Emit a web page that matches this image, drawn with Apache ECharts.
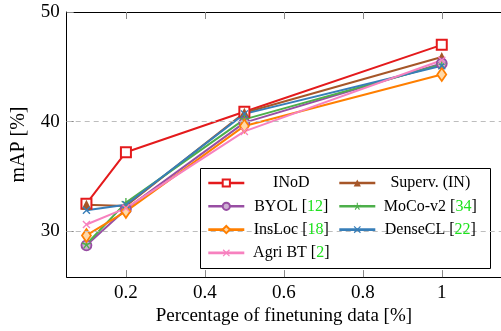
<!DOCTYPE html>
<html><head><meta charset="utf-8">
<script src="https://cdn.jsdelivr.net/npm/echarts@6/dist/echarts.min.js"></script>
<style>html,body{margin:0;padding:0;background:#fff}#c{width:501px;height:331px}</style>
</head><body><div id="c"></div>
<script>
const xValues = [0.1, 0.2, 0.5, 1.0];
const inod    = [32.5, 37.2, 40.9, 47.0];
const superv  = [32.4, 32.3, 40.8, 45.9];
const byol    = [28.7, 32.0, 39.9, 45.3];
const moco    = [28.8, 32.6, 40.2, 45.2];
const insloc  = [29.6, 31.8, 39.6, 44.3];
const densecl = [31.9, 32.4, 40.7, 45.1];
const agribt  = [30.6, 32.1, 39.1, 45.6];
const xTicks = [0.2, 0.4, 0.6, 0.8, 1];
const yTicks = [30, 40, 50];
const gridValues = [30, 40];

const FONT = '"Liberation Serif", "DejaVu Serif", serif';
const XPATH = 'path://M0,1.2 L1.2,0 L5,3.8 L8.8,0 L10,1.2 L6.2,5 L10,8.8 L8.8,10 L5,6.2 L1.2,10 L0,8.8 L3.8,5 Z';
const ASTER = 'path://M4.3,0 L5.7,0 L5.7,3.8 L9.3,2.6 L9.7,3.9 L6.2,5.1 L8.4,8.1 L7.3,8.9 L5,5.9 L2.7,8.9 L1.6,8.1 L3.8,5.1 L0.3,3.9 L0.7,2.6 L4.3,3.8 Z';

const defs = [
  {name:'INoD', ref:null, data:inod, color:'#e41a1c', symbol:'rect', size:10, fill:'#fff', bw:2},
  {name:'Superv. (IN)', ref:null, data:superv, color:'#a65628', symbol:'triangle', size:10, fill:'#a65628', bw:0},
  {name:'BYOL', ref:'12', data:byol, color:'#984ea3', symbol:'circle', size:10, fill:'#cdb0d2', bw:1.8},
  {name:'MoCo-v2', ref:'34', data:moco, color:'#4daf4a', symbol:ASTER, size:9, fill:'#4daf4a', bw:0},
  {name:'InsLoc', ref:'18', data:insloc, color:'#ff7f00', symbol:'diamond', size:[9,13], fill:'#ffd9a8', bw:1.8},
  {name:'DenseCL', ref:'22', data:densecl, color:'#377eb8', symbol:XPATH, size:8, fill:'#377eb8', bw:0},
  {name:'Agri BT', ref:'2', data:agribt, color:'#f781bf', symbol:XPATH, size:8, fill:'#f781bf', bw:0}
];

const ctx = document.createElement('canvas').getContext('2d');
ctx.font = '16px ' + FONT;
const rich = {
  t:{fontFamily:FONT, fontSize:16, color:'#000'},
  g:{fontFamily:FONT, fontSize:16, color:'#1ee21e'}
};
const labelText = {};
function buildLabel(d, i, colW){
  const full = d.ref ? d.name + ' [' + d.ref + ']' : d.name;
  const w = ctx.measureText(full).width;
  const pad = Math.max(0, (colW - w) / 2);
  rich['p' + i] = {width: pad, fontSize:16, fontFamily:FONT};
  let s = '{p' + i + '| }';
  if (d.ref) s += '{t|' + d.name + ' [}{g|' + d.ref + '}{t|]}';
  else s += '{t|' + d.name + '}';
  labelText[d.name] = s;
}
const col1 = ['INoD','BYOL','InsLoc','Agri BT'];
const col2 = ['Superv. (IN)','MoCo-v2','DenseCL'];
defs.forEach((d,i)=>buildLabel(d, i, col1.includes(d.name) ? 84 : 100));

const series = defs.map(d => ({
  name:d.name, type:'line',
  data: xValues.map((x,j)=>[x, d.data[j]]),
  symbol:d.symbol, symbolSize:d.size, showAllSymbol:true,
  lineStyle:{color:d.color, width:2},
  itemStyle:{color:d.fill, borderColor:d.color, borderWidth:d.bw},
  z:3, animation:false
}));
series.unshift({
  name:'_grid', type:'line', data:[], silent:true, z:1,
  markLine:{silent:true, symbol:'none', label:{show:false},
    lineStyle:{color:'#bdbdbd', type:[5,4], width:1},
    data: gridValues.map(v=>({yAxis:v})), animation:false}
});

const legendBase = {
  orient:'vertical', itemWidth:36, itemHeight:9, itemGap:5.3, z:10,
  lineStyle:{width:2.6},
  textStyle:{fontFamily:FONT, fontSize:16, lineHeight:18, color:'#000', rich:rich, padding:[0,0,0,0]},
  formatter: n => labelText[n], selectedMode:false, padding:0
};

const chart = echarts.init(document.getElementById('c'), null, {renderer:'canvas'});
chart.setOption({
  animation:false,
  textStyle:{fontFamily:FONT},
  grid:{left:66.7, right:-2.4, top:12, bottom:53, containLabel:false},
  xAxis:[{
    type:'value', min:0.05, max:1.15, position:'bottom',
    axisLine:{lineStyle:{color:'#000', width:1}},
    axisTick:{inside:true, length:7, lineStyle:{color:'#888'}, customValues:xTicks},
    axisLabel:{customValues:xTicks, color:'#000', fontSize:19, fontFamily:FONT, margin:6,
      formatter: v => String(+v.toFixed(1))},
    splitLine:{show:false},
    name:'Percentage of finetuning data [%]', nameLocation:'middle', nameGap:29,
    nameTextStyle:{fontSize:19, fontFamily:FONT, color:'#000'}
  },{
    type:'value', min:0.05, max:1.15, position:'top',
    axisLine:{lineStyle:{color:'#000', width:1}},
    axisTick:{inside:true, length:7, lineStyle:{color:'#888'}, customValues:xTicks},
    axisLabel:{show:false}, splitLine:{show:false}
  }],
  yAxis:[{
    type:'value', min:25.8, max:50,
    axisLine:{show:true, lineStyle:{color:'#000', width:1}},
    axisTick:{show:true, inside:true, length:7, lineStyle:{color:'#888'}, customValues:yTicks},
    axisLabel:{customValues:yTicks, color:'#000', fontSize:19, fontFamily:FONT, margin:7},
    splitLine:{show:false},
    name:'mAP [%]', nameLocation:'middle', nameRotate:90, nameGap:38,
    nameTextStyle:{fontSize:20, fontFamily:FONT, color:'#000'}
  }],
  legend:[
    Object.assign({}, legendBase, {left:207, top:174, data:col1}),
    Object.assign({}, legendBase, {left:338, top:174, data:col2})
  ],
  graphic:[{
    type:'rect', z:5, silent:true,
    shape:{x:200.5, y:168.5, width:290, height:100},
    style:{fill:'#fff', stroke:'#000', lineWidth:1}
  }],
  series: series
});
</script></body></html>
